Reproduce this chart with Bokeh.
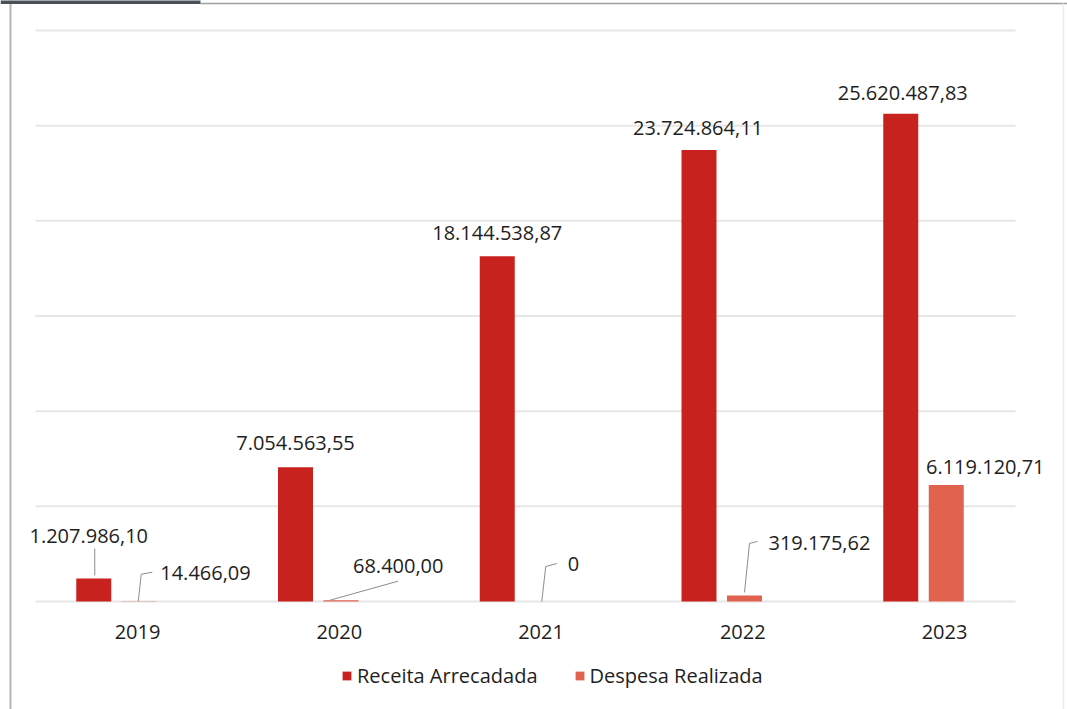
from bokeh.plotting import figure
from bokeh.models import Range1d, Legend, LegendItem, ColumnDataSource
from bokeh.core.properties import value
from bokeh.embed import file_html
from bokeh.resources import INLINE

# ---------------- data ----------------
years = ["2019", "2020", "2021", "2022", "2023"]
receita = [1207986.10, 7054563.55, 18144538.87, 23724864.11, 25620487.83]
despesa = [14466.09, 68400.00, 0.0, 319175.62, 6119120.71]
receita_labels = ["1.207.986,10", "7.054.563,55", "18.144.538,87", "23.724.864,11", "25.620.487,83"]
despesa_labels = ["14.466,09", "68.400,00", "0", "319.175,62", "6.119.120,71"]
grid_ticks = [0, 5e6, 10e6, 15e6, 20e6, 25e6, 30e6]
series_names = ["Receita Arrecadada", "Despesa Realizada"]

# ---------------- layout / style ----------------
W, H = 1067, 709
GX0 = 116.0          # pixel x of first group centre
GDX = 201.75         # pixels per group
Y0PX = 601.0         # pixel y of value 0
SCALE = 571.0 / 30e6 # pixels per unit
FONT = "Open Sans"
FS = "20px"
RED = "#c8221f"
SALMON = "#e0624f"
TXT = "#1e1e1e"

def px_x(px):
    return (px - GX0) / GDX

def py_y(py):
    return (Y0PX - py) / SCALE

def dpx(px):
    return px / GDX

def dpy(py):
    return py / SCALE

BAR_W = dpx(35)
BAR_OFF = dpx(22.75)

p = figure(width=W, height=H, x_range=Range1d(px_x(0), px_x(W)),
           y_range=Range1d(py_y(H), py_y(0)),
           x_axis_type=None, y_axis_type=None,
           output_backend="svg", toolbar_location=None, min_border=0)
p.xgrid.visible = False
p.ygrid.visible = False
p.outline_line_color = None
p.background_fill_color = "white"
p.border_fill_color = "white"

# decorative frame of the screenshot
p.segment(x0=[px_x(10)], y0=[py_y(0)], x1=[px_x(10)], y1=[py_y(H)], line_color="#b4b4b4", line_width=2)
p.segment(x0=[px_x(200)], y0=[py_y(3)], x1=[px_x(W)], y1=[py_y(3)], line_color="#a0a0a0", line_width=1.5)
p.segment(x0=[px_x(0)], y0=[py_y(1.5)], x1=[px_x(200)], y1=[py_y(1.5)], line_color="#4a5058", line_width=4)
p.segment(x0=[px_x(1063)], y0=[py_y(3)], x1=[px_x(1063)], y1=[py_y(H)], line_color="#ececec", line_width=1.5)

# gridlines
gl, gr = px_x(35), px_x(1015)
p.segment(x0=[gl] * len(grid_ticks), y0=grid_ticks, x1=[gr] * len(grid_ticks), y1=grid_ticks,
          line_color="#e6e6e6", line_width=2)

idx = list(range(len(years)))
rx = [i - BAR_OFF for i in idx]
dx_ = [i + BAR_OFF for i in idx]

r1 = p.vbar(x=rx, top=receita, width=BAR_W, fill_color=RED, line_color=None)
r2 = p.vbar(x=dx_, top=despesa, width=BAR_W, fill_color=SALMON, line_color=None)

# receita labels (pixel offsets relative to bar top; negative = up)
rec_off_x = [-5, 0, 0, -1, 2]
rec_off_y = [-43, -24, -23, -22, -21]
src_r = ColumnDataSource(dict(x=rx, y=receita, t=receita_labels, ox=rec_off_x, oy=rec_off_y))
p.text(x="x", y="y", text="t", x_offset="ox", y_offset="oy", source=src_r,
       text_font=value(FONT), text_font_size=FS, text_color=TXT,
       text_align="center", text_baseline="middle")

# despesa labels
des_off_x = [21, 12, 25, 24, 39]
des_off_y = [-28, -34, -38, -52, -18]
des_align = ["left", "left", "left", "left", "center"]
src_d = ColumnDataSource(dict(x=dx_, y=despesa, t=despesa_labels, ox=des_off_x,
                              oy=des_off_y, al=des_align))
p.text(x="x", y="y", text="t", x_offset="ox", y_offset="oy", source=src_d,
       text_font=value(FONT), text_font_size=FS, text_color=TXT,
       text_align="al", text_baseline="middle")

# leader lines (pixel paths relative to bar top; negative = up)
leader_rec = {0: [(1, -3), (1, -30)]}
leader_des = {0: [(-1, 0), (2, -27), (13, -29)],
              1: [(-11, 0), (57, -19)],
              2: [(-1, 0), (3, -35), (14, -38)],
              3: [(0, -3), (5, -52), (13, -54)]}
lxs, lys = [], []
for i, path in leader_rec.items():
    lxs.append([rx[i] + dpx(a) for a, b in path])
    lys.append([receita[i] - dpy(b) for a, b in path])
for i, path in leader_des.items():
    lxs.append([dx_[i] + dpx(a) for a, b in path])
    lys.append([despesa[i] - dpy(b) for a, b in path])
p.multi_line(xs=lxs, ys=lys, line_color="#8c8c8c", line_width=1)

# year labels
p.text(x=[i + dpx(21) for i in idx], y=[-dpy(30)] * len(idx), text=years,
       text_font=value(FONT), text_font_size=FS, text_color=TXT,
       text_align="center", text_baseline="middle")

legend = Legend(items=[LegendItem(label=series_names[0], renderers=[r1]),
                       LegendItem(label=series_names[1], renderers=[r2])],
                orientation="horizontal", location=(341, 20),
                glyph_width=11, glyph_height=11, label_standoff=5, spacing=36,
                label_text_font=FONT, label_text_font_size=FS, label_text_color=TXT,
                border_line_color=None, background_fill_alpha=0, padding=0, margin=0)
p.add_layout(legend)

open("out.html", "w").write(file_html(p, INLINE))
